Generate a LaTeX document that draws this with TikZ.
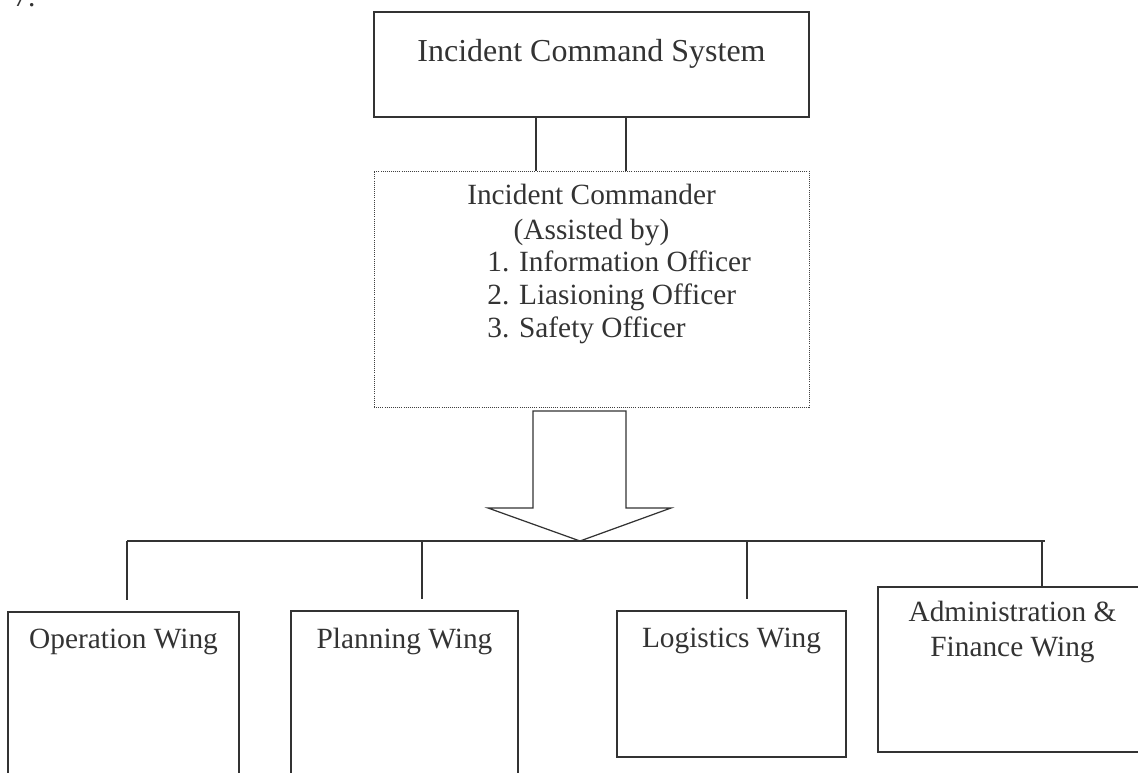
\documentclass[tikz,border=0pt]{standalone}
\usepackage{fontspec}
\setmainfont{Liberation Serif}
\usepackage{tikz}
\usetikzlibrary{calc,positioning}

\tikzset{
  box/.style={draw=black!80, line width=0.8pt, inner sep=0pt},
  dotbox/.style={draw=black!75, line width=0.5pt, dash pattern=on 0.5pt off 0.7pt, inner sep=0pt},
  link/.style={draw=black!80, line width=0.7pt},
  txt/.style={font=\fontsize{16.7}{19}\selectfont, text=black!80, inner sep=0pt, anchor=base},
}

\begin{document}
\begin{tikzpicture}[x=0.02cm, y=-0.02cm]
        \useasboundingbox (0,0) rectangle (1138,773);
        \clip (0,0) rectangle (1138,773);
        % page number left over from the scan
        \node[txt, anchor=base west] (pageno) at (13,7) {7.};
        % top boxes
        \node[box, minimum width=8.7cm, minimum height=2.1cm] (ics) at (591.5,64.5) {};
        \node[txt, font=\fontsize{18.2}{22}\selectfont] (icstxt) at ($(ics.north)+(0,50)$) {Incident Command System};
        \node[dotbox, minimum width=8.7cm, minimum height=4.72cm] (ic) at (591.5,289) {};
        \node[txt] (ictxt) at ($(ic.north)+(0,34)$) {Incident Commander};
        \node[txt] (assisted) at ($(ic.north)+(0,69)$) {(Assisted by)};
        \node[txt, anchor=base west] (infoff) at ($(ic.north)+(-104.5,101)$) {1. Information Officer};
        \node[txt, anchor=base west] (lioff) at ($(ic.north)+(-104.5,134)$) {2. Liasioning Officer};
        \node[txt, anchor=base west] (safoff) at ($(ic.north)+(-104.5,167)$) {3. Safety Officer};
        % double line between them
        \draw[link] ($(ics.south)+(-55.5,0)$) -- ($(ic.north)+(-55.5,0)$);
        \draw[link] ($(ics.south)+(34.5,0)$) -- ($(ic.north)+(34.5,0)$);
        % block arrow
        \coordinate (bus) at (580,541);
        \draw[link, line join=miter] (533,411) -- (626,411) -- (626,508) -- (671,508) -- (bus)
              -- (488,508) -- (533,508) -- cycle;
        % wings
        \node[box, minimum width=4.62cm, minimum height=3.56cm] (ops) at (123.5,701) {};
        \node[box, minimum width=4.54cm, minimum height=3.58cm] (plan) at (404.5,700.5) {};
        \node[box, minimum width=4.58cm, minimum height=2.92cm] (logi) at (731.5,684) {};
        \node[box, minimum width=5.38cm, minimum height=3.3cm] (admin) at (1012.5,669.5) {};
        \node[txt] (opstxt) at ($(ops.north)+(0,37)$) {Operation Wing};
        \node[txt] (plantxt) at ($(plan.north)+(0,38)$) {Planning Wing};
        \node[txt] (logitxt) at ($(logi.north)+(0,37)$) {Logistics Wing};
        \node[txt] (admintxt) at ($(admin.north)+(0,35)$) {Administration \&};
        \node[txt] (fintxt) at ($(admin.north)+(0,70)$) {Finance Wing};
        % branches
        \coordinate (opsdrop) at ($(ops.north)+(3.5,-11)$);
        \coordinate (plandrop) at ($(plan.north)+(17.5,-11)$);
        \coordinate (logidrop) at ($(logi.north)+(15.5,-11)$);
        \coordinate (admindrop) at ($(admin.north)+(29.5,0)$);
        \draw[link] (opsdrop |- bus) -- ($(admindrop |- bus)+(3,0)$);
        \draw[link] (opsdrop |- bus) -- (opsdrop);
        \draw[link] (plandrop |- bus) -- (plandrop);
        \draw[link] (logidrop |- bus) -- (logidrop);
        \draw[link] (admindrop |- bus) -- (admindrop);
      \end{tikzpicture}
\end{document}
